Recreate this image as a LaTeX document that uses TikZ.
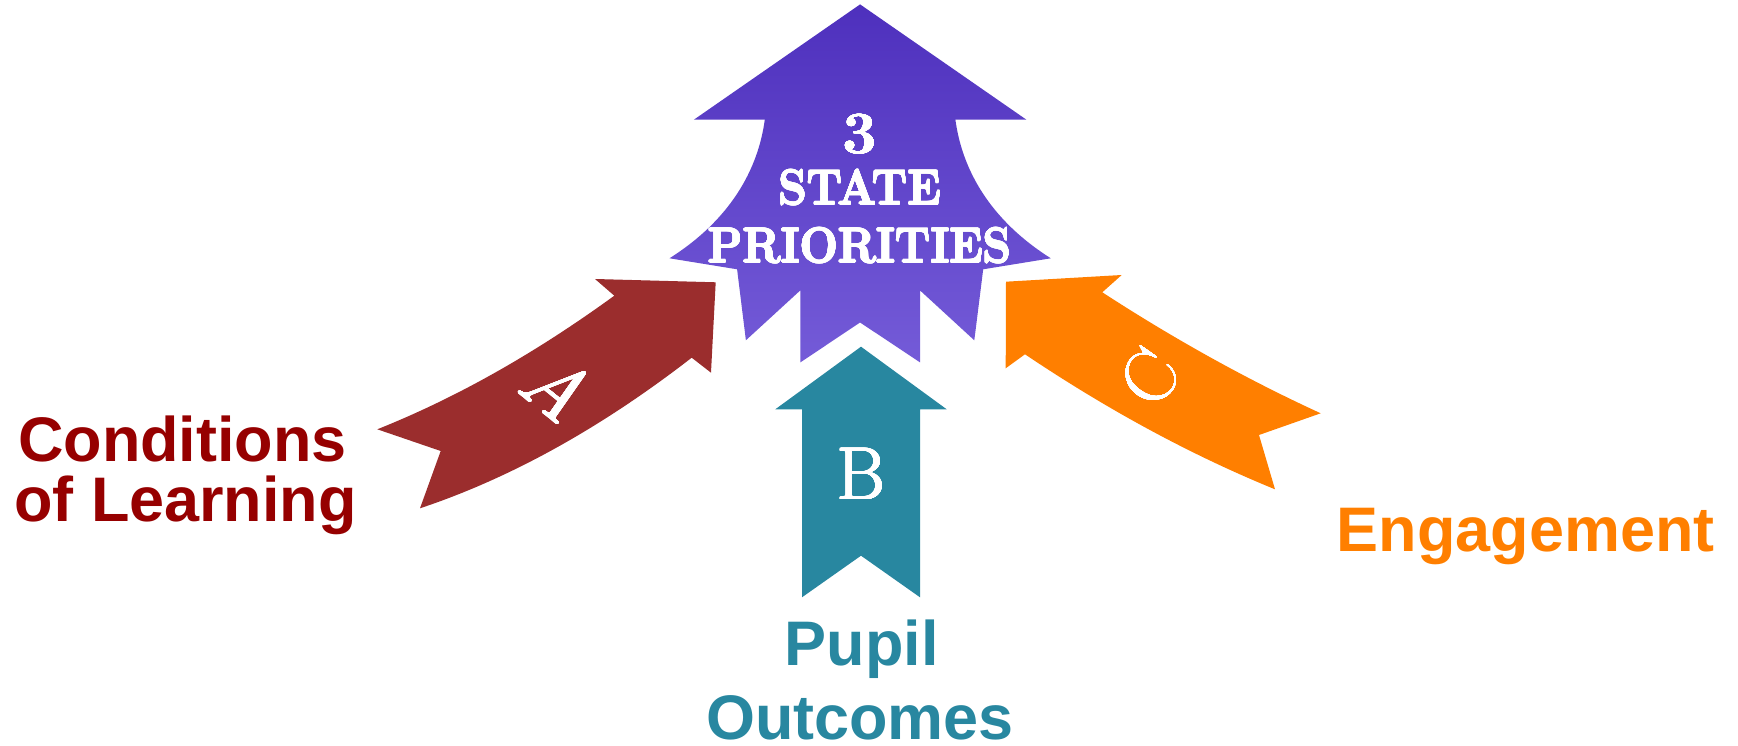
\documentclass[tikz,border=0pt]{standalone}
\usepackage{fontspec}
\usepackage{graphicx}
\usepackage{contour}
\contourlength{0.15pt}
\contournumber{24}
\newfontfamily\labfont{Liberation Sans}
\definecolor{purpTop}{RGB}{78,48,189}
\definecolor{purpBot}{RGB}{116,91,216}
\definecolor{arrRed}{RGB}{155,45,45}
\definecolor{txtRed}{RGB}{150,0,0}
\definecolor{teal}{RGB}{40,135,160}
\definecolor{orng}{RGB}{255,127,0}
\tikzset{
  label/.style={inner sep=0pt, anchor=base, font=\labfont\bfseries\fontsize{17.9pt}{20pt}\selectfont},
  letter/.style={inner sep=0pt, text=white},
  title/.style={inner sep=0pt, anchor=base, text=white},
}
\newcommand\letterfont{\fontsize{21pt}{24pt}\selectfont\contourlength{0.1pt}}
\newcommand\titlefont{\fontsize{14pt}{16pt}\selectfont\bfseries\contourlength{0.16pt}}
\begin{document}
\begin{tikzpicture}[x=0.01cm,y=-0.01cm]
\useasboundingbox (0,0) rectangle (1738,746);
% purple main arrow
\shade[top color=purpTop, bottom color=purpBot]
  (860.1,4.4) -- (1026.4,119.7) -- (955.4,119.7)
  .. controls (962.2,170) and (990.2,220) .. (1050.8,258.3)
  -- (983.2,269.3) -- (974.3,340.3) -- (920,290.4) -- (920,362.4)
  -- (860.1,322.5) -- (800.3,362.4) -- (800.3,290.4) -- (745.9,340.3)
  -- (737.1,269.3) -- (669.5,258.3)
  .. controls (730,220) and (758,170) .. (764.8,119.7)
  -- (693.9,119.7) -- cycle;
% red arrow A
\fill[arrRed] (377.3,429.3) -- (440.7,451) -- (420,508.3)
  .. controls (510.6,478.1) and (601.1,427.9) .. (691.7,357.7)
  -- (711,372.7) -- (715.7,282.3) -- (595,279) -- (614.3,295.7)
  .. controls (535.3,353.2) and (456.3,397.8) .. (377.3,429.3) -- cycle;
% teal arrow B
\fill[teal] (861,346.7) -- (946.7,409.3) -- (920,409.3) -- (920,597.3)
  -- (861,555.7) -- (802,597.3) -- (802,409.3) -- (775.3,409.3) -- cycle;
% orange arrow C
\fill[orng] (1006,281.7) -- (1121.7,275) -- (1102.3,292.3)
  .. controls (1175.1,339.6) and (1247.9,379.9) .. (1320.7,413.3)
  -- (1259,435) -- (1275,489.3)
  .. controls (1191.7,455.3) and (1108.3,410.3) .. (1025,354.3)
  -- (1005.7,368.3) -- cycle;
% title text
\node[title, font=\fontsize{17pt}{18pt}\selectfont\bfseries\contourlength{0.12pt}] (three) at (860,153.5) {\contour{white}{3}};
\node[title, font=\titlefont] (state) at (860,204.5) {\scalebox{0.92}[1]{\contour{white}{STATE}}};
\node[title, font=\titlefont] (prio) at (860,262.5) {\scalebox{0.92}[1]{\contour{white}{PRIORITIES}}};
% letters
\node[letter, rotate=-39, font=\fontsize{23pt}{26pt}\selectfont\itshape\contourlength{0.1pt}] (la) at (556,386) {\contour{white}{A}};
\node[letter, anchor=base, font=\letterfont] (lb) at (861.3,499.3) {\contour{white}{B}};
\node[letter, rotate=55, font=\letterfont] (lc) at (1150,378) {\contour{white}{C}};
% labels
\node[label, text=txtRed] (cond1) at (182.5,461.5) {Conditions};
\node[label, text=txtRed] (cond2) at (185.5,522) {of Learning};
\node[label, text=teal] (pup1) at (861.7,666) {Pupil};
\node[label, text=teal] (pup2) at (860,739.5) {Outcomes};
\node[label, text=orng] (eng) at (1525.8,551.7) {Engagement};
\end{tikzpicture}
\end{document}
